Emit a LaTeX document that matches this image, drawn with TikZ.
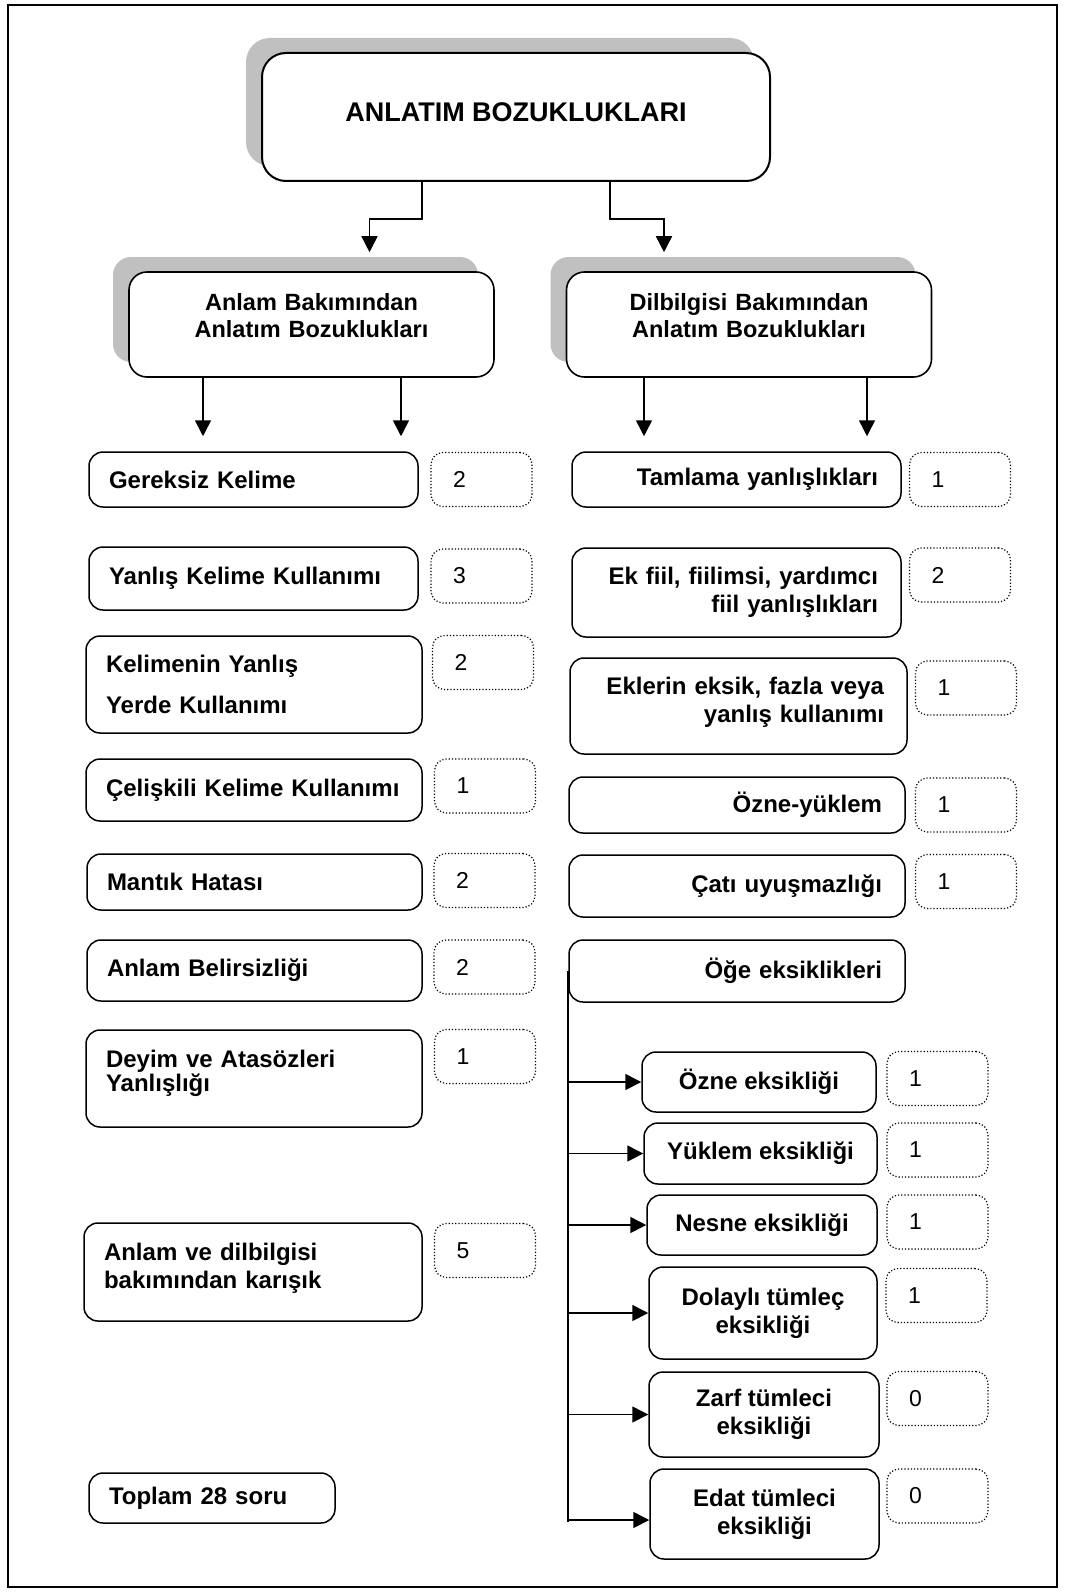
\documentclass[tikz,border=0pt]{standalone}
\usepackage{fontspec}
\setmainfont{Liberation Sans}
\usepackage{tikz}
\usetikzlibrary{calc,shadows,arrows.meta}
\definecolor{shadowgray}{RGB}{192,192,192}

\begin{document}
\begin{tikzpicture}[
          x=0.5pt,y=-0.5pt,
          >={Triangle[length=8pt,width=8pt]},
          greyshadow/.style={drop shadow={shadow xshift=-8pt,shadow yshift=7.5pt,fill=shadowgray,opacity=1}},
          mainbox/.style={draw,line width=1pt,fill=white,rounded corners=12pt,greyshadow,
            minimum width=254pt,minimum height=64pt,text depth=5pt,
            font=\fontsize{13.5}{16}\selectfont\bfseries},
          headbox/.style={draw,line width=0.8pt,fill=white,rounded corners=9pt,greyshadow,
            align=center,inner xsep=4pt,text width=174.5pt,minimum height=52.5pt,text depth=23pt,
            font=\fontsize{11.75}{13.5}\selectfont\bfseries},
          itembox/.style={draw,line width=0.75pt,rounded corners=7pt,
            font=\fontsize{12}{14}\selectfont\bfseries},
          leftbox/.style 2 args={itembox,align=left,inner xsep=10pt,
            text width=#1*0.5pt-20pt,minimum height=#2*0.5pt},
          rightbox/.style 2 args={itembox,align=right,inner xsep=11.5pt,
            text width=#1*0.5pt-23pt,minimum height=#2*0.5pt},
          subbox/.style 2 args={itembox,align=center,
            minimum width=#1*0.5pt,minimum height=#2*0.5pt},
          numbox/.style={draw,densely dotted,line width=0.6pt,rounded corners=6pt,
            align=left,inner xsep=11pt,text width=28.5pt,minimum height=27pt,
            font=\fontsize{11.5}{14}\selectfont},
          conn/.style={line width=0.8pt}
          ]
          \useasboundingbox (0,0) rectangle (1065,1594);
          \draw[line width=1pt] (8,5) rectangle (1057,1587);
          % the title and the two groups
          \node[mainbox] (title) at (516,117) {ANLATIM BOZUKLUKLARI};
          \node[headbox] (anlam) at (311.5,324.5) {Anlam Bakımından\\Anlatım Bozuklukları};
          \node[headbox] (dil) at (749,324.5) {Dilbilgisi Bakımından\\Anlatım Bozuklukları};
          % the errors of meaning
          \node[leftbox={329}{55}] (gereksiz) at (253.5,479.5) {Gereksiz Kelime};
          \node[leftbox={329}{63}] (yanlis) at (253.5,578.5) {Yanlış Kelime Kullanımı};
          \node[leftbox={336}{97}] (yer) at (254,684.5) {Kelimenin Yanlış\\[6.5pt]Yerde Kullanımı};
          \node[leftbox={336}{62}] (celiskili) at (254,790) {Çelişkili Kelime Kullanımı};
          \node[leftbox={335}{56}] (mantik) at (254.5,882) {Mantık Hatası};
          \node[leftbox={335}{61}] (belirsiz) at (254.5,970.5) {Anlam Belirsizliği};
          \node[leftbox={336}{97},text depth=20pt] (deyim) at (254,1078.5) {Deyim ve Atasözleri\\[-2pt]Yanlışlığı};
          \node[leftbox={338}{98},text depth=20pt] (karisik) at (253,1272) {Anlam ve dilbilgisi\\bakımından karışık};
          \node[leftbox={246}{50}] (toplam) at (212,1498) {Toplam 28 soru};
          % the errors of grammar
          \node[rightbox={329}{55}] (tamlama) at (736.5,479.5) {Tamlama yanlışlıkları};
          \node[rightbox={329}{89}] (ekfiil) at (736.5,592.5) {Ek fiil, fiilimsi, yardımcı\\fiil yanlışlıkları};
          \node[rightbox={337}{96},text depth=20pt] (ekler) at (738.5,706) {Eklerin eksik, fazla veya\\yanlış kullanımı};
          \node[rightbox={336}{56}] (ozneyuklem) at (737,805) {Özne-yüklem};
          \node[rightbox={336}{62}] (cati) at (737,886) {Çatı uyuşmazlığı};
          \node[rightbox={336}{62}] (oge) at (737,971) {Öğe eksiklikleri};
          % the missing elements
          \node[subbox={234}{60}] (ozne) at (759,1082) {Özne eksikliği};
          \node[subbox={233}{61}] (yuklem) at (760.5,1153.5) {Yüklem eksikliği};
          \node[subbox={230}{60}] (nesne) at (762,1225) {Nesne eksikliği};
          \node[subbox={228}{92}] (dolayli) at (763,1313) {Dolaylı tümleç\\eksikliği};
          \node[subbox={230}{85}] (zarf) at (764,1414.5) {Zarf tümleci\\eksikliği};
          \node[subbox={229}{90}] (edat) at (764.5,1514) {Edat tümleci\\eksikliği};
          % the counts
          \foreach \i/\xc/\yc/\val in {1/481.5/479.5/2, 2/481.5/576/3, 3/483/662.5/2, 4/485/786/1,
              5/484.5/880.5/2, 6/484.5/967/2, 7/485/1056.5/1, 8/485/1250.5/5,
              9/960/479.5/1, 10/960/575/2, 11/966/688/1, 12/966/805/1, 13/966/881.5/1,
              14/937.5/1078.5/1, 15/937.5/1150/1, 16/937.5/1222/1, 17/936.5/1295.5/1,
              18/937.5/1398.5/0, 19/937.5/1496/0}
            \node[numbox] (n\i) at (\xc,\yc) {\val};
          % the edges
          \coordinate (anlamIn) at ($(anlam.north)+(58,-19)$);
          \coordinate (dilIn) at ($(dil.north)+(-85,-19)$);
          \draw[conn,->] ($(title.south)+(-94,0)$) -- ++(0,37) -| (anlamIn);
          \draw[conn,->] ($(title.south)+(94,0)$) -- ++(0,37) -| (dilIn);
          \coordinate (a1) at ($(anlam.south)+(-108.5,0)$);
          \coordinate (a2) at ($(anlam.south)+(89.5,0)$);
          \coordinate (d1) at ($(dil.south)+(-105,0)$);
          \coordinate (d2) at ($(dil.south)+(118,0)$);
          \draw[conn,->,shorten >=7.5pt] (a1) -- (a1 |- gereksiz.north);
          \draw[conn,->,shorten >=7.5pt] (a2) -- (a2 |- gereksiz.north);
          \draw[conn,->,shorten >=7.5pt] (d1) -- (d1 |- tamlama.north);
          \draw[conn,->,shorten >=7.5pt] (d2) -- (d2 |- tamlama.north);
          \coordinate (ogeEnd) at ($(edat.west)+(0,8)$);
          \draw[conn] (oge.west) -- (oge.west |- ogeEnd);
          \foreach \n in {ozne,yuklem,nesne,dolayli,zarf}
            \draw[conn,->] (oge.west |- \n.west) -- (\n.west);
          \draw[conn,->] ($(oge.west |- edat.west)+(0,6)$) -- ($(edat.west)+(0,6)$);
        \end{tikzpicture}
\end{document}
